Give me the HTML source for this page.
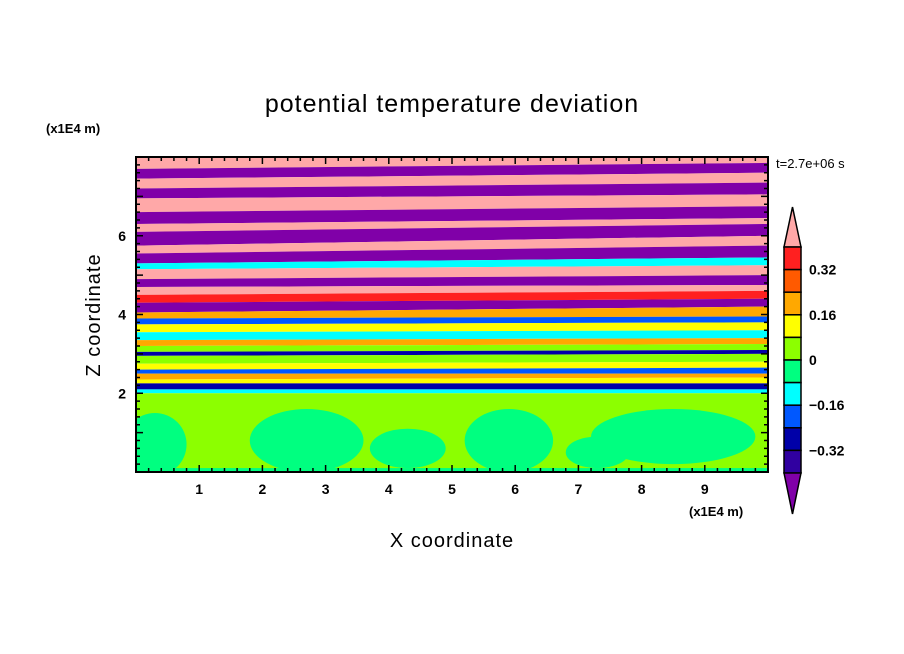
<!DOCTYPE html>
<html><head><meta charset="utf-8"><style>
body{margin:0;background:#fff;}
svg{display:block;font-family:"Liberation Sans",sans-serif;}
</style></head><body>
<svg id="chart" width="904" height="654" viewBox="0 0 904 654">
<rect width="904" height="654" fill="#fff"/>
<text x="452" y="112" font-size="25" text-anchor="middle" letter-spacing="1">potential temperature deviation</text>
<text x="46" y="133" font-size="13" font-weight="bold">(x1E4 m)</text>
<text x="776" y="168" font-size="13">t=2.7e+06 s</text>
<text x="689" y="516" font-size="13" font-weight="bold">(x1E4 m)</text>
<text x="452" y="547" font-size="20" text-anchor="middle" letter-spacing="1">X coordinate</text>
<text transform="translate(100,315) rotate(-90)" font-size="20" text-anchor="middle" letter-spacing="1">Z coordinate</text>
<g id="field"></g>
<g id="axes"></g>
<g id="cbar"></g>
</svg>
<script>
const levelColors=["#8000a8","#3000a0","#0000a8","#0058ff","#00ffff","#00ff80","#8cff00","#ffff00","#ffa800","#ff5a00","#ff2020","#ffa8a8"];
const cbarLabels=["0.32","0.16","0","−0.16","−0.32"];
const layerZLeft=[7.7,7.45,7.2,6.95,6.6,6.3,6.1,5.75,5.55,5.3,5.15,4.9,4.7,4.5,4.3,4.05,3.9,3.75,3.55,3.35,3.2,3.05,2.95,2.75,2.6,2.5,2.35,2.25,2.1,2.0,0];
const layerZRight=[7.85,7.6,7.35,7.05,6.75,6.45,6.3,6.0,5.75,5.45,5.25,5.0,4.75,4.6,4.4,4.2,3.95,3.8,3.6,3.4,3.25,3.1,3.0,2.8,2.65,2.5,2.4,2.25,2.1,2.0,0];
const layerLevel=[11,0,11,0,11,0,11,0,11,0,4,11,0,11,10,0,8,3,7,4,8,6,2,6,7,3,8,7,2,4,6];
const blobX=[0.3,2.7,5.9,8.5,4.3,7.3];
const blobZ=[0.7,0.8,0.8,0.9,0.6,0.5];
const blobRx=[0.5,0.9,0.7,1.3,0.6,0.5];
const blobRz=[0.8,0.8,0.8,0.7,0.5,0.4];
const xTicks=[1,2,3,4,5,6,7,8,9];
const yTicks=[2,4,6];
const X0=136,X1=768,Y0=472,Y1=157,XMAX=10,ZMAX=8;
const sx=v=>X0+(X1-X0)*v/XMAX, sy=v=>Y0-(Y0-Y1)*v/ZMAX;
const NS="http://www.w3.org/2000/svg";
function mk(t,a,p){const e=document.createElementNS(NS,t);for(const k in a)e.setAttribute(k,a[k]);p.appendChild(e);return e;}
const field=document.getElementById('field');
let prevL=ZMAX,prevR=ZMAX;
for(let i=0;i<layerLevel.length;i++){
 const p=mk('polygon',{points:`${sx(0)},${sy(prevL)} ${sx(XMAX)},${sy(prevR)} ${sx(XMAX)},${sy(layerZRight[i])} ${sx(0)},${sy(layerZLeft[i])}`,fill:levelColors[layerLevel[i]]},field);
 
 
 prevL=layerZLeft[i];prevR=layerZRight[i];
}
const clip=mk('clipPath',{id:'pc'},field);mk('rect',{x:X0,y:Y1,width:X1-X0,height:Y0-Y1},clip);
const bg=mk('g',{'clip-path':'url(#pc)'},field);
for(let i=0;i<blobX.length;i++){
 const e=mk('ellipse',{cx:sx(blobX[i]),cy:sy(blobZ[i]),rx:(X1-X0)*blobRx[i]/XMAX,ry:(Y0-Y1)*blobRz[i]/ZMAX,fill:levelColors[5]},bg);
 
 
}
mk('rect',{x:X0,y:sy(0.1),width:X1-X0,height:sy(0)-sy(0.1),fill:levelColors[5]},bg);
const ax=document.getElementById('axes');
mk('rect',{x:X0,y:Y1,width:X1-X0,height:Y0-Y1,fill:'none',stroke:'#000','stroke-width':2},ax);
for(let v=0.2;v<XMAX;v+=0.2){const x=sx(v),L=Math.abs(v-Math.round(v))<0.01?7:4;
 mk('line',{x1:x,y1:Y0,x2:x,y2:Y0-L,stroke:'#000','stroke-width':1.5},ax);
 mk('line',{x1:x,y1:Y1,x2:x,y2:Y1+L,stroke:'#000','stroke-width':1.5},ax);}
for(let v=0.2;v<ZMAX;v+=0.2){const y=sy(v),L=Math.abs(v-Math.round(v))<0.01?7:4;
 mk('line',{x1:X0,y1:y,x2:X0+L,y2:y,stroke:'#000','stroke-width':1.5},ax);
 mk('line',{x1:X1,y1:y,x2:X1-L,y2:y,stroke:'#000','stroke-width':1.5},ax);}
xTicks.forEach(v=>{const t=mk('text',{x:sx(v),y:Y0+22,'font-size':14,'font-weight':'bold','text-anchor':'middle'},ax);t.textContent=v;
 });
yTicks.forEach(v=>{const t=mk('text',{x:X0-10,y:sy(v)+5,'font-size':14,'font-weight':'bold','text-anchor':'end'},ax);t.textContent=v;
 });
const cb=document.getElementById('cbar');
const CX0=784,CX1=801,CTOP=247,BH=22.6;
mk('polygon',{points:`${(CX0+CX1)/2},207 ${CX1},${CTOP} ${CX0},${CTOP}`,fill:levelColors[11],stroke:'#000','stroke-width':1.5},cb);
for(let i=0;i<10;i++){const r=mk('rect',{x:CX0,y:CTOP+i*BH,width:CX1-CX0,height:BH,fill:levelColors[10-i],stroke:'#000','stroke-width':1.5},cb);
 }
mk('polygon',{points:`${CX0},${CTOP+10*BH} ${CX1},${CTOP+10*BH} ${(CX0+CX1)/2},514`,fill:levelColors[0],stroke:'#000','stroke-width':1.5},cb);
cbarLabels.forEach((s,i)=>{const t=mk('text',{x:809,y:CTOP+BH*(1+2*i)+5,'font-size':14,'font-weight':'bold'},cb);t.textContent=s;
 });
</script>
</body></html>
